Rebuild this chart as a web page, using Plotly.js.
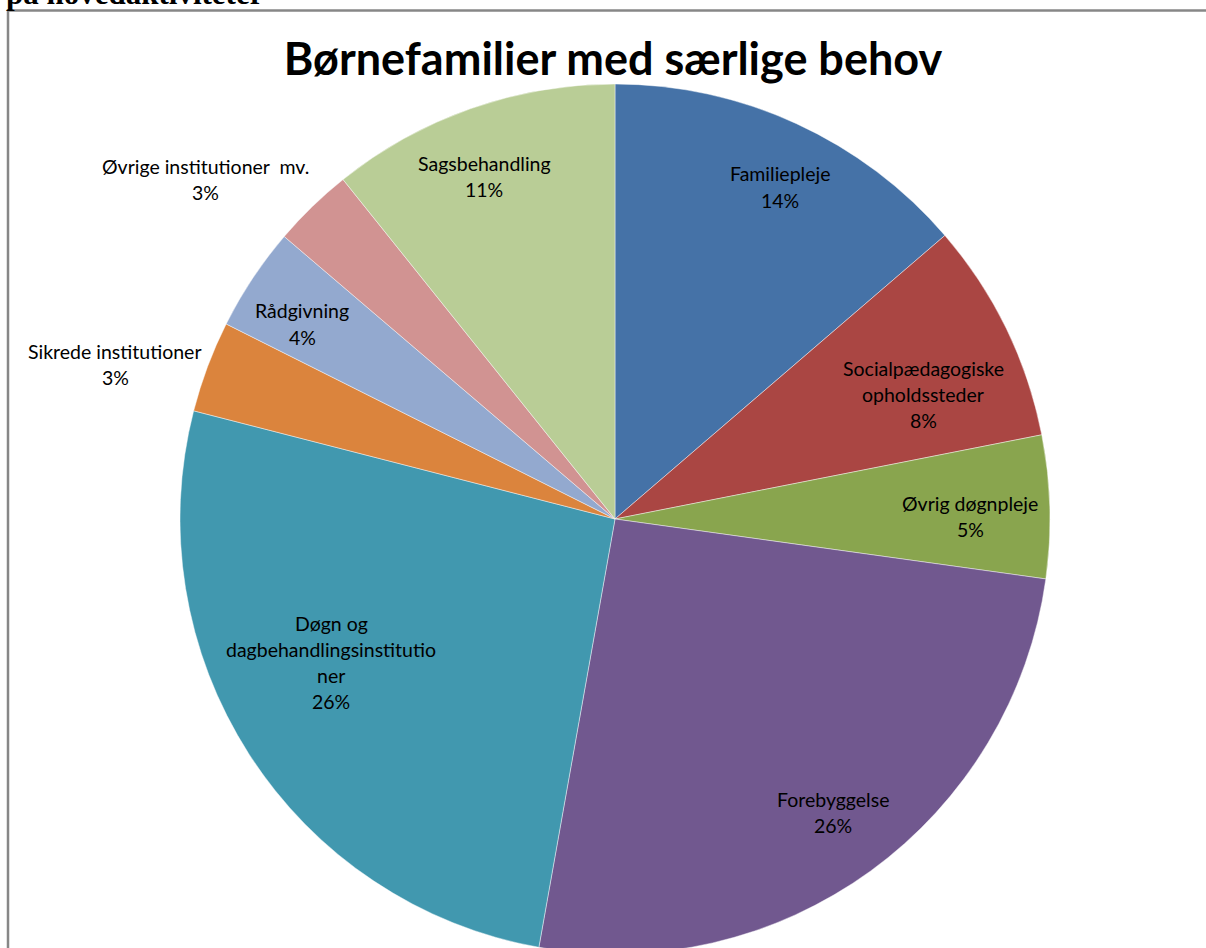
<!DOCTYPE html>
<html>
<head>
<meta charset="utf-8">
<script src="https://cdn.plot.ly/plotly-3.0.1.min.js"></script>
<style>
html,body{margin:0;padding:0;overflow:hidden;background:#fff;}
#chart{width:1206px;height:1000px;}
</style>
</head>
<body>
<div id="chart"></div>
<script>
// ---- data ----
const categories = ["Familiepleje", "Socialpædagogiske opholdssteder", "Øvrig døgnpleje", "Forebyggelse",
  "Døgn og dagbehandlingsinstitutioner", "Sikrede institutioner", "Rådgivning", "Øvrige institutioner  mv.", "Sagsbehandling"];
const values = [13.7, 8.2, 5.3, 25.6, 26.2, 3.4, 3.85, 3.0, 10.75];
const colors = ["#4572A7", "#AA4643", "#89A54E", "#71588F", "#4198AF", "#DB843D", "#93A9CF", "#D19392", "#B9CD96"];
// wrapped label lines as shown in the chart
const labelLines = [
  ["Familiepleje"],
  ["Socialpædagogiske", "opholdssteder"],
  ["Øvrig døgnpleje"],
  ["Forebyggelse"],
  ["Døgn og", "dagbehandlingsinstitutio", "ner"],
  ["Sikrede institutioner"],
  ["Rådgivning"],
  ["Øvrige institutioner  mv."],
  ["Sagsbehandling"]
];
const chartTitle = "Børnefamilier med særlige behov";
const pageHeading = "på hovedaktiviteter";

// ---- layout (pixel positions of label blocks: centre x, first line centre y) ----
const W = 1206, H = 1000;
const labelPos = [[780,174],[923,368],[970,503],[833,799],[331,623],[115,351],[302,311],[205,166],[484,163]];
const lineStep = 26.3;
const px = x => x / W, py = y => 1 - y / H;

const total = values.reduce((a, b) => a + b, 0);
const annotations = [];
labelLines.forEach((lines, i) => {
  const pct = Math.round(values[i] / total * 100) + "%";
  const all = lines.concat([pct]);
  all.forEach((t, k) => {
    annotations.push({
      xref: "paper", yref: "paper",
      x: px(labelPos[i][0]), y: py(labelPos[i][1] + k * lineStep),
      xanchor: "center", yanchor: "middle",
      text: t, showarrow: false,
      font: {family: "Lato, 'Open Sans', sans-serif", size: 19.5, color: "#000"}
    });
  });
});
annotations.push({
  xref: "paper", yref: "paper", x: px(4), y: py(-6), xanchor: "left", yanchor: "middle",
  text: "<b>" + pageHeading + "</b>", showarrow: false,
  font: {family: "'Liberation Serif', 'DejaVu Serif', serif", size: 31, color: "#000"}
});

const trace = {
  type: "pie",
  labels: categories,
  values: values,
  sort: false,
  direction: "clockwise",
  rotation: 0,
  textinfo: "none",
  hoverinfo: "label+percent",
  marker: {colors: colors, line: {color: "rgba(255,255,255,0.55)", width: 0.8}},
  domain: {x: [px(615 - 435), px(615 + 435)], y: [py(519 + 435), py(519 - 435)]},
  showlegend: false
};

const layout = {
  width: W, height: H,
  margin: {l: 0, r: 0, t: 0, b: 0},
  paper_bgcolor: "#fff",
  showlegend: false,
  title: {
    text: "<b>" + chartTitle + "</b>",
    x: px(613), xref: "paper", xanchor: "center",
    y: py(59), yref: "container", yanchor: "middle",
    font: {family: "Lato, 'Open Sans', sans-serif", size: 45, color: "#000"}
  },
  annotations: annotations,
  shapes: [
    {type: "line", xref: "paper", yref: "paper", x0: px(7), x1: px(1206), y0: py(10.5), y1: py(10.5),
     line: {color: "#878787", width: 2.5}},
    {type: "line", xref: "paper", yref: "paper", x0: px(8), x1: px(8), y0: py(9.5), y1: py(1000),
     line: {color: "#878787", width: 2.5}}
  ]
};

Plotly.newPlot("chart", [trace], layout, {displayModeBar: false, staticPlot: true});
</script>
</body>
</html>
